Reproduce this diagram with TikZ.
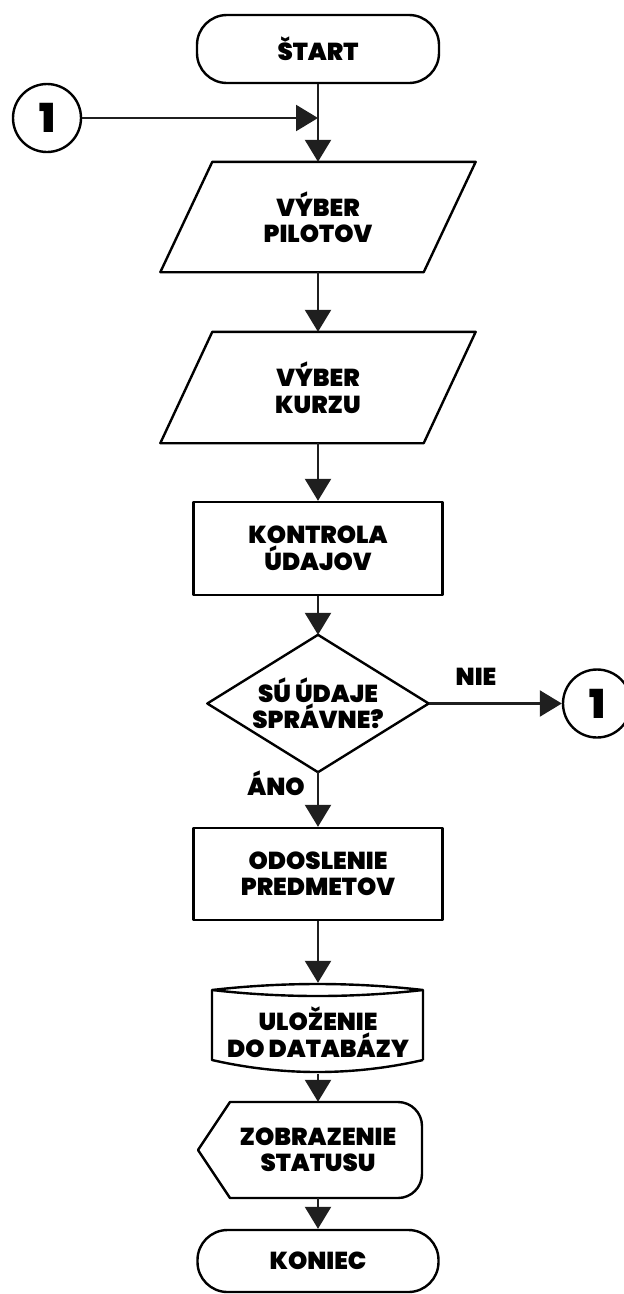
\documentclass[tikz,border=0pt]{standalone}
\usepackage{fontspec}
\setmainfont{Poppins}[BoldFont={* Black}]
\usetikzlibrary{arrows.meta,calc}
\begin{document}
\begin{tikzpicture}[x=1pt,y=-1pt,
 ln/.style={line width=2.3pt, draw=black!88},
 arr/.style={ln, -{Triangle[length=22pt,width=26pt]}},
 shp/.style={line width=2.4pt, draw=black, line join=round},
 txt/.style={font=\bfseries\fontsize{24.5}{26.5}\selectfont, align=center, text=black, inner sep=0pt},
 conn/.style={circle, shp, minimum size=68pt, inner sep=0pt, font=\bfseries\fontsize{40}{40}\selectfont},
 term/.style={shp, rounded corners=30pt, txt},
 box/.style={shp, txt}]
\useasboundingbox (0,0) rectangle (624,1294);
% nodes
\node[term, minimum width=242, minimum height=68] (start) at (318,49) {ŠTART};
\node[conn] (c1) at (47,118) {1};
\node[txt, minimum width=263, minimum height=110] (p1) at (318,217) {VÝBER\\PILOTOV};
\draw[shp] ([xshift=26]p1.north west) -- ([xshift=26]p1.north east) -- ([xshift=-26]p1.south east) -- ([xshift=-26]p1.south west) -- cycle;
\node[txt, minimum width=263, minimum height=111] (p2) at (318,387.5) {VÝBER\\KURZU};
\draw[shp] ([xshift=26]p2.north west) -- ([xshift=26]p2.north east) -- ([xshift=-26]p2.south east) -- ([xshift=-26]p2.south west) -- cycle;
\node[box, minimum width=249, minimum height=93] (r1) at (318,548.5) {KONTROLA\\ÚDAJOV};
\node[txt, minimum width=221, minimum height=137] (dec) at (318,703.5) {SÚ ÚDAJE\\SPRÁVNE?};
\draw[shp] (dec.north) -- (dec.east) -- (dec.south) -- (dec.west) -- cycle;
\node[conn] (c2) at (597,703.5) {1};
\node[txt, anchor=base] (nie) at (476,685) {NIE};
\node[txt, anchor=base] (ano) at (276,795) {ÁNO};
\node[box, minimum width=249, minimum height=92] (r2) at (318,874) {ODOSLENIE\\PREDMETOV};
\node[txt, minimum width=211, minimum height=84] (db) at (318,1032) {ULOŽENIE\\DO DATABÁZY};
\draw[shp] (423,1060) -- (423,990) .. controls (353,982) and (282,982) .. (212,990)
  .. controls (282,998) and (353,998) .. (423,990)
  (212,990) -- (212,1060)
  .. controls (282,1076) and (353,1076) .. (423,1060);
\node[txt, minimum width=208, minimum height=96] (disp) at (318,1150) {ZOBRAZENIE\\STATUSU};
\draw[shp] (198,1150) -- (230,1102) -- (398,1102) arc(-90:0:24) -- (422,1174) arc(0:90:24) -- (230,1198) -- cycle;
\node[term, minimum width=241, minimum height=62] (end) at (318,1261) {KONIEC};
% connectors
\draw[arr] (start.south) -- (p1.north);
\draw[arr] (c1.east) -- (c1.east -| start.south);
\draw[arr] (p1.south) -- (p2.north);
\draw[arr] (p2.south) -- (r1.north);
\draw[arr] (r1.south) -- (dec.north);
\draw[arr] (dec.east) -- (c2.west);
\draw[arr] (dec.south) -- (r2.north);
\draw[arr] (r2.south) -- ([yshift=7pt]db.north);
\draw[arr] (db.south) -- (disp.north);
\draw[arr] (disp.south) -- (end.north);
\end{tikzpicture}
\end{document}
